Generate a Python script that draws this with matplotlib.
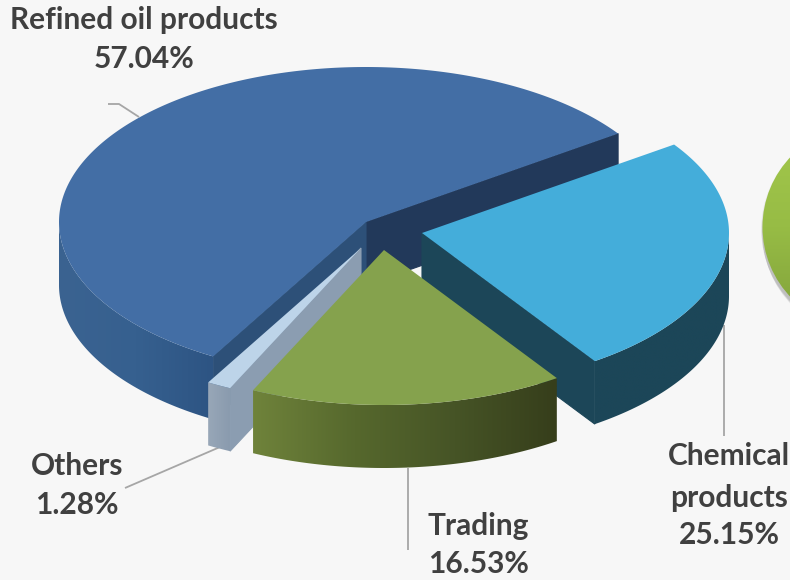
#!/usr/bin/env python3

import numpy as np
import matplotlib
matplotlib.use('Agg')
import matplotlib.pyplot as plt
from matplotlib import patches
from matplotlib.colors import LinearSegmentedColormap

categories = ['Refined oil products', 'Chemical\nproducts', 'Trading', 'Others']
shares = [57.04, 25.15, 16.53, 1.28]
share_labels = ['57.04%', '25.15%', '16.53%', '1.28%']

# pie geometry, in pixels
RX, RY, DEPTH = 307, 155, 63
START_ANGLE = 34.8
apexes = [(366, 222), (422, 233), (384, 250), (361, 248)]

top_colors = ['#436EA5', '#44ADDA', '#85A24D', '#BDD4E9']
wall_colors = [['#3B6391', '#36608F', '#2D5483'],
               ['#1C4658', '#1C4658'],
               ['#6F833B', '#56682D', '#465426', '#363E1B'],
               ['#98A7B8', '#8A9BAE']]
cut_colors = ['#2D5078', '#1C4658', '#5A6B2F', '#8B9DB1']
BACK_COLOR = '#22395A'
LABEL_COLOR = '#404040'
LEADER_COLOR = '#A6A6A6'

fig = plt.figure(figsize=(7.9, 5.8), dpi=100, facecolor='#F7F7F7')
ax = fig.add_axes([0, 0, 1, 1])
ax.set_axis_off()


def rim(apex, a0, a1, n=120, drop=0):
    t = np.radians(np.linspace(a0, a1, n))
    return np.column_stack((apex[0] + RX * np.cos(t), apex[1] - RY * np.sin(t) + drop))


def gradient_wall(verts, colors, z):
    """horizontal gradient clipped to a polygon"""
    poly = patches.Polygon(verts, closed=True, fc='none', ec='none', zorder=z)
    ax.add_patch(poly)
    cmap = LinearSegmentedColormap.from_list('wall', colors)
    x0, x1 = verts[:, 0].min(), verts[:, 0].max()
    y0, y1 = verts[:, 1].min(), verts[:, 1].max()
    im = ax.imshow(np.linspace(0, 1, 256).reshape(1, -1), cmap=cmap, aspect='auto',
                   extent=(x0, x1, y1, y0), zorder=z, interpolation='bilinear')
    im.set_clip_path(poly)


def cut_face(p, q, color, z):
    verts = [p, q, (q[0], q[1] + DEPTH), (p[0], p[1] + DEPTH)]
    ax.add_patch(patches.Polygon(verts, closed=True, fc=color, ec=color, lw=0.8, zorder=z))


# green disc running off the right side, with its soft shadow
for i in range(10):
    ax.add_patch(patches.Circle((864, 229 + i * 0.6), 103 - i * 0.2, fc='black', ec='none',
                                alpha=0.025, zorder=1))
disc = patches.Circle((864, 227), 101.5, fc='none', ec='none', zorder=2)
ax.add_patch(disc)
disc_cmap = LinearSegmentedColormap.from_list('disc', ['#A3C84C', '#97BC45', '#7F9F3A'])
im = ax.imshow(np.linspace(0, 1, 256).reshape(-1, 1), cmap=disc_cmap, aspect='auto',
               extent=(760, 970, 330, 125), zorder=2)
im.set_clip_path(disc)

# slices run clockwise from the start angle: chemical, trading, others, refined oil
sweeps = {i: s / 100.0 * 360.0 for i, s in enumerate(shares)}
a_hi, a_lo = {}, {}
angle = START_ANGLE
for i in [1, 2, 3, 0]:
    a_hi[i] = angle
    a_lo[i] = angle - sweeps[i]
    angle = a_lo[i]

for rank, i in enumerate([0, 1, 3, 2]):
    apex = apexes[i]
    z = 3 + rank * 3
    p_hi = rim(apex, a_hi[i], a_hi[i], 1)[0]
    p_lo = rim(apex, a_lo[i], a_lo[i], 1)[0]

    # only the part of the rim facing the viewer gets a wall
    if i == 0:
        cut_face(apex, p_lo, BACK_COLOR, z)
        cut_face(apex, p_hi, cut_colors[i], z)
        front = (-180.0, a_hi[i])
    elif i == 1:
        # same colour as its wall, so it goes on top to hide the join
        cut_face(apex, p_lo, cut_colors[i], z + 1.5)
        front = (a_lo[i], 0.0)
    else:
        if i == 3:
            cut_face(apex, p_hi, cut_colors[i], z)
        front = (a_lo[i], a_hi[i])
    upper = rim(apex, front[0], front[1])
    lower = rim(apex, front[1], front[0], drop=DEPTH)
    gradient_wall(np.vstack((upper, lower)), wall_colors[i], z + 1)

    # top face
    arc = rim(apex, a_hi[i], a_lo[i], 240)
    ax.add_patch(patches.Polygon(np.vstack(([apex], arc)), closed=True, fc=top_colors[i],
                                 ec='none', zorder=z + 2))

# leader lines
leaders = [([108, 119, 139], [104, 104, 117]),
           ([724, 724], [325, 436]),
           ([408, 408], [468, 550]),
           ([220, 125], [447, 488])]
for xs, ys in leaders:
    ax.plot(xs, ys, color=LEADER_COLOR, lw=1.3, zorder=0.5, solid_capstyle='butt')

# data labels
name_pos = [(144, 20), (729, 477), (478, 526), (77, 466)]
value_pos = [(144, 59), (729, 535), (478, 564), (77, 505)]
font = dict(family='Lato', weight='bold', color=LABEL_COLOR, fontsize=21.5, ha='center',
            va='center', zorder=30)
for i, name in enumerate(categories):
    ax.text(name_pos[i][0], name_pos[i][1], name, linespacing=1.58, **font)
    ax.text(value_pos[i][0], value_pos[i][1], share_labels[i], **font)

ax.set_xlim(0, 790)
ax.set_ylim(580, 0)
fig.savefig('out.png', dpi=100, facecolor=fig.get_facecolor())
